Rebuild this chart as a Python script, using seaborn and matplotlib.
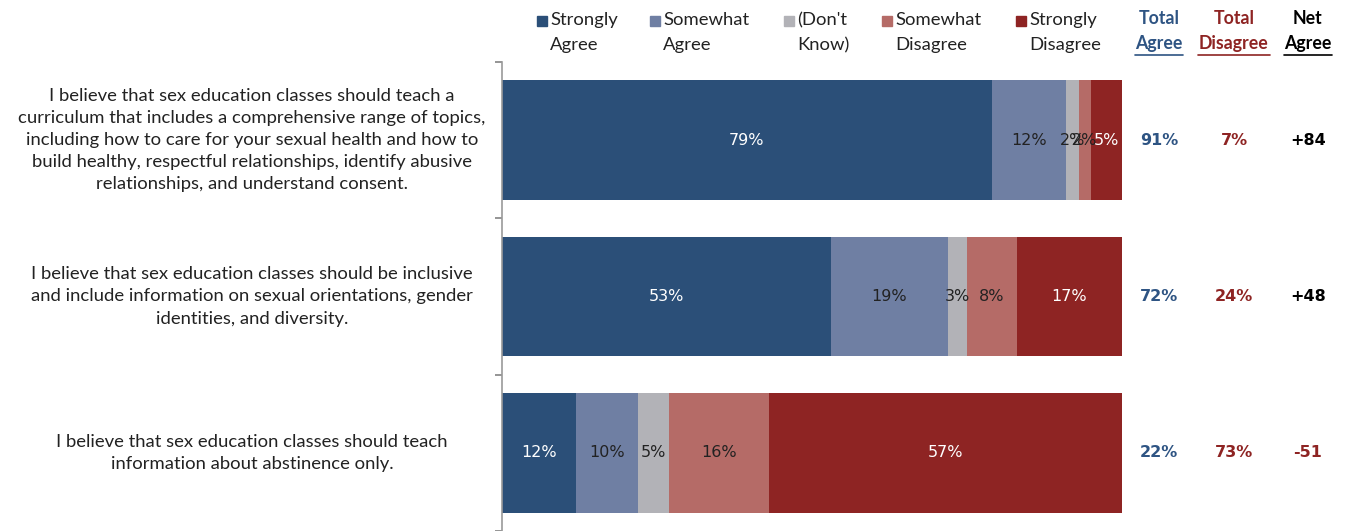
import matplotlib
matplotlib.use("Agg")
import matplotlib.pyplot as plt
import matplotlib.transforms as mtransforms
from matplotlib.patches import Rectangle
from matplotlib.lines import Line2D
import numpy as np
import pandas as pd
import seaborn as sns

questions = [
    "I believe that sex education classes should teach a\ncurriculum that includes a comprehensive range of topics,\n"
    "including how to care for your sexual health and how to\nbuild healthy, respectful relationships, identify abusive\n"
    "relationships, and understand consent.",
    "I believe that sex education classes should be inclusive\nand include information on sexual orientations, gender\n"
    "identities, and diversity.",
    "I believe that sex education classes should teach\ninformation about abstinence only.",
]
categories = ["Strongly\nAgree", "Somewhat\nAgree", "(Don't\nKnow)", "Somewhat\nDisagree", "Strongly\nDisagree"]
strongly_agree = [79, 53, 12]
somewhat_agree = [12, 19, 10]
dont_know = [2, 3, 5]
somewhat_disagree = [2, 8, 16]
strongly_disagree = [5, 17, 57]
total_agree = [91, 72, 22]
total_disagree = [7, 24, 73]
net_agree = [84, 48, -51]

colors = ["#2B4F78", "#6F7FA3", "#B2B2B7", "#B56B67", "#8E2423"]
label_colors = ["white", "#222222", "#222222", "#222222", "white"]
BLUE = "#2E5483"
RED = "#8E2423"
TEXT_FONT = ["Lato", "DejaVu Sans"]
NUM_FONT = ["DejaVu Sans"]

series = [strongly_agree, somewhat_agree, dont_know, somewhat_disagree, strongly_disagree]
df = pd.DataFrame({c: s for c, s in zip(categories, series)})
df["question"] = [f"q{i}" for i in range(len(questions))]
cum = df[categories].cumsum(axis=1)

sns.set_theme(style="white")
fig = plt.figure(figsize=(13.46, 5.31), dpi=100)
W, H = 1346, 531
ax = fig.add_axes([502 / W, 0.0, 620 / W, 1 - 62 / H])

# stacked bars: draw cumulative totals from the right-most segment down
for k in reversed(range(len(categories))):
    sns.barplot(x=cum[categories[k]], y=df["question"], orient="h", color=colors[k],
                width=0.765, saturation=1, ax=ax, linewidth=0)

for i in range(len(questions)):
    left = 0
    for k, c in enumerate(categories):
        v = df.loc[i, c]
        ax.text(left + v / 2, i, f"{v}%", ha="center", va="center", fontsize=11.5,
                color=label_colors[k], family=NUM_FONT)
        left += v

ax.set_xlim(0, 100)
ax.set_ylim(2.485, -0.5)
ax.set_xlabel("")
ax.set_ylabel("")
ax.set_xticks([])
ax.set_yticks([-0.5, 0.5, 1.5, 2.5])
ax.set_yticklabels([])
ax.tick_params(axis="y", length=5, color="#888888", direction="out", left=True)
for s in ["top", "right", "bottom"]:
    ax.spines[s].set_visible(False)
ax.spines["left"].set_color("#999999")
ax.spines["left"].set_linewidth(1.2)

trans = mtransforms.blended_transform_factory(ax.transAxes, ax.transData)
for i, q in enumerate(questions):
    ax.text((252 - 502) / 620, i, q, transform=trans, ha="center", va="center",
            fontsize=13.3, color="#222222", family=TEXT_FONT, linespacing=1.47, clip_on=False)

col_x = [1159, 1234, 1308]
for i in range(len(questions)):
    net_col = RED if net_agree[i] < 0 else "black"
    vals = [(f"{total_agree[i]}%", BLUE), (f"{total_disagree[i]}%", RED), (f"{net_agree[i]:+d}", net_col)]
    for x, (t, c) in zip(col_x, vals):
        ax.text((x - 502) / 620, i, t, transform=trans, ha="center", va="center",
                fontsize=11.5, fontweight="bold", color=c, family=NUM_FONT, clip_on=False)

# legend
sq_x = [537, 650, 784, 882, 1016]
for x, c, lab in zip(sq_x, colors, categories):
    fig.add_artist(Rectangle((x / W, 1 - 26 / H), 10 / W, 10 / H, color=c, transform=fig.transFigure))
    l1, l2 = lab.split("\n")
    fig.text((x + 13) / W, 1 - 20 / H, l1, ha="left", va="center", fontsize=13.3,
             color="#222222", family=TEXT_FONT)
    fig.text((x + 13) / W, 1 - 45 / H, l2, ha="left", va="center", fontsize=13.3,
             color="#222222", family=TEXT_FONT)

headers = [("Total", "Agree", BLUE, 48), ("Total", "Disagree", RED, 72), ("Net", "Agree", "black", 48)]
for x, (h1, h2, c, w) in zip(col_x, headers):
    fig.text(x / W, 1 - 18 / H, h1, ha="center", va="center", fontsize=12.8,
             fontweight="bold", color=c, family=TEXT_FONT)
    fig.text(x / W, 1 - 43 / H, h2, ha="center", va="center", fontsize=12.8,
             fontweight="bold", color=c, family=TEXT_FONT)
    fig.add_artist(Line2D([(x - w / 2) / W, (x + w / 2) / W], [1 - 55 / H, 1 - 55 / H],
                          color=c, linewidth=1.2, transform=fig.transFigure))

fig.savefig("out.png", dpi=100)
